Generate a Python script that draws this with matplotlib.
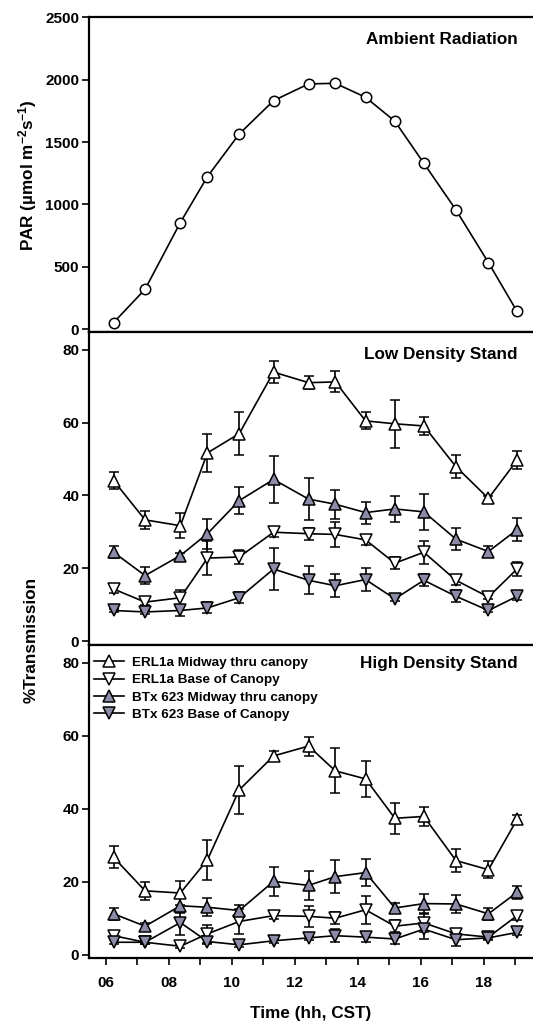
import numpy as np
import matplotlib
matplotlib.use('Agg')
import matplotlib.pyplot as plt
from matplotlib.ticker import MultipleLocator
from matplotlib.lines import Line2D

plt.rcParams['font.family'] = ['Liberation Sans', 'DejaVu Sans']
plt.rcParams['font.weight'] = 'bold'
plt.rcParams['mathtext.fontset'] = 'custom'
plt.rcParams['mathtext.bf'] = 'Liberation Sans:bold'
plt.rcParams['mathtext.rm'] = 'Liberation Sans:bold'
plt.rcParams['mathtext.default'] = 'bf'

# sampling times (decimal hours, CST)
hours = [6.25, 7.25, 8.37, 9.23, 10.24, 11.33, 12.44, 13.29, 14.25, 15.18, 16.10, 17.12, 18.15, 19.06]

# ambient PAR
par = [53, 320, 855, 1223, 1565, 1832, 1966, 1971, 1859, 1667, 1330, 956, 534, 142]

# low density stand (% transmission, mean and error)
low_erl_mid = [44.1, 33.3, 31.7, 51.7, 57.0, 73.9, 71.0, 71.2, 60.5, 59.7, 59.1, 47.9, 39.2, 49.7]
low_erl_mid_err = [2.3, 2.4, 3.5, 5.3, 5.9, 3.1, 1.8, 2.9, 2.3, 6.6, 2.5, 3.2, 0.6, 2.5]
low_erl_base = [14.3, 10.7, 11.9, 22.8, 23.1, 29.9, 29.5, 29.3, 27.8, 21.4, 24.4, 16.7, 12.1, 19.8]
low_erl_base_err = [1.0, 0.8, 2.2, 4.7, 2.0, 1.3, 1.7, 3.5, 1.4, 1.6, 3.2, 1.3, 0.5, 2.0]
low_btx_mid = [24.4, 18.0, 23.5, 29.5, 38.6, 44.4, 39.0, 37.6, 35.3, 36.3, 35.5, 28.0, 24.6, 30.6]
low_btx_mid_err = [1.6, 2.4, 0.8, 4.1, 3.7, 6.5, 5.8, 4.0, 3.0, 3.6, 4.9, 3.0, 1.4, 3.2]
low_btx_base = [8.4, 8.0, 8.4, 9.1, 11.9, 19.8, 16.7, 15.2, 16.9, 11.6, 16.7, 12.3, 8.4, 12.3]
low_btx_base_err = [0.5, 0.6, 1.4, 1.5, 1.5, 5.7, 3.9, 3.2, 3.2, 0.5, 1.7, 1.6, 0.5, 1.0]

# high density stand
high_erl_mid = [26.7, 17.5, 16.9, 26.0, 45.2, 54.5, 57.2, 50.4, 48.2, 37.4, 37.9, 25.8, 23.3, 37.1]
high_erl_mid_err = [3.0, 2.5, 3.3, 5.4, 6.5, 1.4, 2.6, 6.2, 4.9, 4.2, 2.7, 3.2, 2.4, 1.3]
high_erl_base = [5.2, 3.4, 2.3, 5.7, 9.1, 10.7, 10.5, 10.0, 12.3, 7.8, 8.7, 5.7, 4.8, 10.7]
high_erl_base_err = [0.8, 0.5, 0.5, 2.4, 3.3, 1.0, 2.9, 1.7, 3.9, 1.6, 2.4, 0.9, 0.5, 1.2]
high_btx_mid = [11.2, 7.8, 13.4, 13.0, 12.1, 20.1, 19.0, 21.4, 22.5, 12.8, 14.0, 13.9, 11.2, 17.1]
high_btx_mid_err = [1.6, 0.8, 2.0, 2.5, 1.4, 4.0, 3.9, 4.5, 3.7, 1.4, 2.5, 2.5, 1.6, 1.8]
high_btx_base = [3.4, 3.4, 8.8, 3.6, 2.7, 3.8, 4.6, 5.2, 4.8, 4.3, 7.0, 4.1, 4.6, 6.1]
high_btx_base_err = [0.5, 0.5, 3.3, 0.6, 0.5, 0.5, 0.6, 1.8, 1.4, 1.5, 2.7, 1.6, 0.5, 0.6]

labels = ['ERL1a Midway thru canopy', 'ERL1a Base of Canopy',
          'BTx 623 Midway thru canopy', 'BTx 623 Base of Canopy']
fill = '#8c8ca8'
styles = [('^', 'white'), ('v', 'white'), ('^', fill), ('v', fill)]

W, H = 533, 1021
fig = plt.figure(figsize=(W / 100, H / 100), dpi=100)
left = 89 / W
xmin = 5.47
xmax = xmin + (W - 89) / 31.5
LW = 1.2


def make_ax(top_px, bot_px):
    ax = fig.add_axes([left, 1 - bot_px / H, 1.0 - left, (bot_px - top_px) / H])
    ax.set_xlim(xmin, xmax)
    ax.spines['right'].set_visible(False)
    for s in ['left', 'bottom', 'top']:
        ax.spines[s].set_linewidth(1.6)
    ax.tick_params(axis='both', direction='out', length=5, width=1.2, labelsize=11, pad=2)
    ax.tick_params(axis='x', which='minor', direction='out', length=5, width=1.2)
    ax.xaxis.set_major_locator(MultipleLocator(2))
    ax.xaxis.set_minor_locator(MultipleLocator(1))
    return ax


ax1 = make_ax(17.3, 331.7)
ax2 = make_ax(331.7, 644.7)
ax3 = make_ax(644.7, 958.3)

# top panel
ax1.plot(hours, par, '-o', color='black', lw=LW, ms=7.5, mfc='white', mec='black', mew=1.1)
ax1.set_ylim(-20, 2500)
ax1.set_yticks([0, 500, 1000, 1500, 2000, 2500])
ax1.tick_params(axis='x', which='both', bottom=False, labelbottom=False)
ax1.text(0.966, 0.930, 'Ambient Radiation', transform=ax1.transAxes,
         ha='right', va='center', fontsize=12.3, fontweight='bold')

low = [(low_erl_mid, low_erl_mid_err), (low_erl_base, low_erl_base_err),
       (low_btx_mid, low_btx_mid_err), (low_btx_base, low_btx_base_err)]
high = [(high_erl_mid, high_erl_mid_err), (high_erl_base, high_erl_base_err),
        (high_btx_mid, high_btx_mid_err), (high_btx_base, high_btx_base_err)]

for ax, data in [(ax2, low), (ax3, high)]:
    for (vals, errs), (mk, fc) in zip(data, styles):
        ax.errorbar(hours, vals, yerr=errs, fmt='-' + mk, color='black', lw=LW,
                    ms=8, mfc=fc, mec='black', mew=1.1, ecolor='black',
                    elinewidth=1.2, capsize=3.5, capthick=1.2)
    ax.set_ylim(-1, 85)
    ax.set_yticks([0, 20, 40, 60, 80])

ax2.tick_params(axis='x', which='both', bottom=False, labelbottom=False)
ax2.text(0.966, 0.926, 'Low Density Stand', transform=ax2.transAxes,
         ha='right', va='center', fontsize=12.3, fontweight='bold')
ax3.text(0.966, 0.941, 'High Density Stand', transform=ax3.transAxes,
         ha='right', va='center', fontsize=12.3, fontweight='bold')

ax3.set_xticks([6, 8, 10, 12, 14, 16, 18])
ax3.set_xticklabels(['06', '08', '10', '12', '14', '16', '18'])
ax3.tick_params(axis='x', labelsize=11, pad=8)
ax3.set_xlabel('Time (hh, CST)', fontsize=12.3, fontweight='bold', labelpad=11)

handles = [Line2D([], [], color='black', lw=LW, marker=mk, ms=8, mfc=fc, mec='black', mew=1.1)
           for mk, fc in styles]
ax3.legend(handles, labels, loc='upper left', bbox_to_anchor=(0.012, 0.962), frameon=False,
           fontsize=9.7, handlelength=2.2, handletextpad=0.6, labelspacing=0.36,
           borderpad=0, borderaxespad=0)

fig.text(28 / W, 1 - 175 / H, 'PAR (µmol m$^{-2}$s$^{-1}$)', rotation=90,
         ha='center', va='center', fontsize=12.3, fontweight='bold')
fig.text(31 / W, 1 - 640 / H, '%Transmission', rotation=90,
         ha='center', va='center', fontsize=12.3, fontweight='bold')

fig.savefig('out.png', dpi=100)
